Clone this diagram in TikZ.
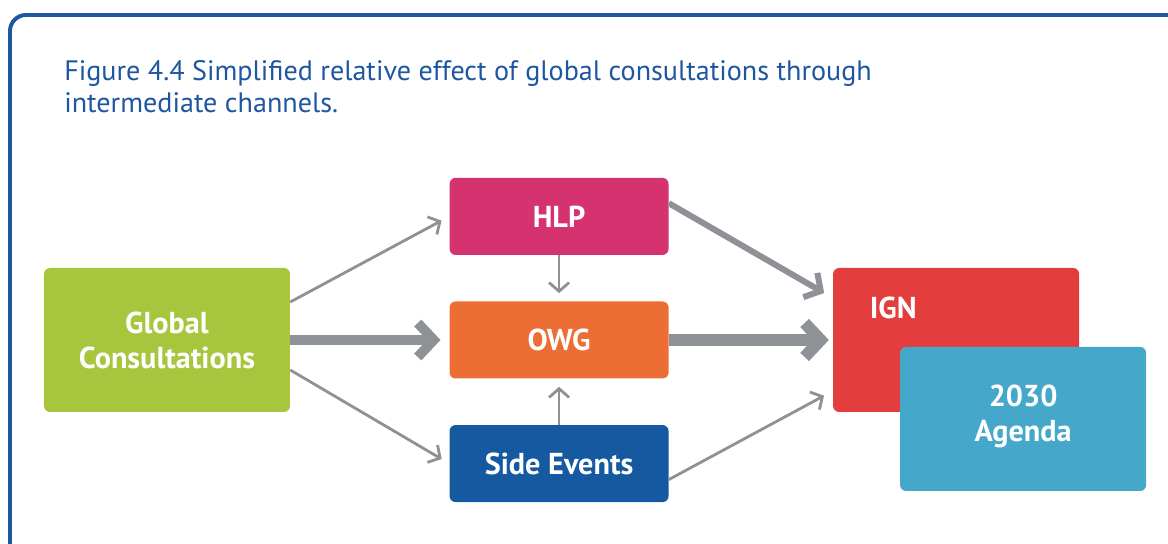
\documentclass[tikz,border=0pt]{standalone}
\usepackage{fontspec}
\setmainfont{PT Sans}
\usetikzlibrary{arrows.meta, positioning}

\definecolor{frameblue}{HTML}{1F56A0}
\definecolor{gcgreen}{HTML}{A8C63D}
\definecolor{hlppink}{HTML}{D5336F}
\definecolor{owgorange}{HTML}{EC6E35}
\definecolor{sideblue}{HTML}{1559A0}
\definecolor{ignred}{HTML}{E43D3E}
\definecolor{agendateal}{HTML}{45A7C9}
\definecolor{arrowgray}{HTML}{8E9297}

\begin{document}
\begin{tikzpicture}[
    channel/.style={rounded corners=0.15cm, minimum width=5.475cm, minimum height=1.925cm, align=center, text=white, font=\bfseries\fontsize{21.5}{25}\selectfont},
    bigbox/.style={channel, minimum width=6.15cm, minimum height=3.6cm},
    weakarrow/.style={-{Straight Barb[length=0.22cm, width=0.5cm]}, line width=2pt, draw=arrowgray},
    midarrow/.style={-{Straight Barb[length=0.3cm, width=0.7cm]}, line width=4.3pt, draw=arrowgray},
    strongarrow/.style={-{Straight Barb[length=0.4cm, width=0.85cm]}, line width=7pt, draw=arrowgray},
    node distance=1.15cm and 3.975cm
]
    \useasboundingbox (-4.175,-5.1) rectangle (25.025,8.5);

    % Frame and caption
    \draw[line width=2.8pt, draw=frameblue, rounded corners=0.4cm] (26,8.125) -| (-3.925,-6);
    \node[anchor=north west, inner sep=0pt, text=frameblue, align=left, font=\fontsize{20}{22.7}\selectfont] (caption) at (-2.575,7.0)
        {Figure 4.4 Simplified relative effect of global consultations through\\intermediate channels.};

    % Source and intermediate channels
    \node[bigbox, fill=gcgreen] (global) at (0,0) {Global\\Consultations};
    \node[channel, fill=owgorange, right=of global] (owg) {OWG};
    \node[channel, fill=hlppink, above=of owg] (hlp) {HLP};
    \node[channel, fill=sideblue, below=of owg] (side) {Side Events};

    % Outcome
    \node[bigbox, fill=ignred, right=4.1cm of owg,
          label={[anchor=north west, text=white, font=\bfseries\fontsize{21.5}{25}\selectfont, xshift=0.8cm, yshift=-0.6cm]north west:IGN}] (ign) {};
    \node[bigbox, fill=agendateal, xshift=1.675cm, yshift=-1.975cm, text depth=0.3cm] (agenda) at (ign) {2030\\Agenda};

    % Effects
    \draw[weakarrow, shorten >=0.22cm] ([yshift=0.95cm]global.east) -- (hlp.west);
    \draw[strongarrow, shorten >=0.22cm] (global) -- (owg);
    \draw[weakarrow, shorten >=0.22cm] ([yshift=-0.75cm]global.east) -- (side.west);
    \draw[weakarrow, shorten >=0.2cm] (hlp) -- (owg);
    \draw[weakarrow, shorten >=0.2cm] (side) -- (owg);
    \draw[midarrow, shorten >=0.25cm] ([yshift=0.33cm]hlp.east) -- ([yshift=1.05cm]ign.west);
    \draw[strongarrow, line width=8.5pt, shorten >=0.1cm] (owg) -- (ign.west |- owg.east);
    \draw[weakarrow, shorten >=0.25cm] ([yshift=-0.4cm]side.east) -- ([yshift=-1.275cm]ign.west);
\end{tikzpicture}
\end{document}
